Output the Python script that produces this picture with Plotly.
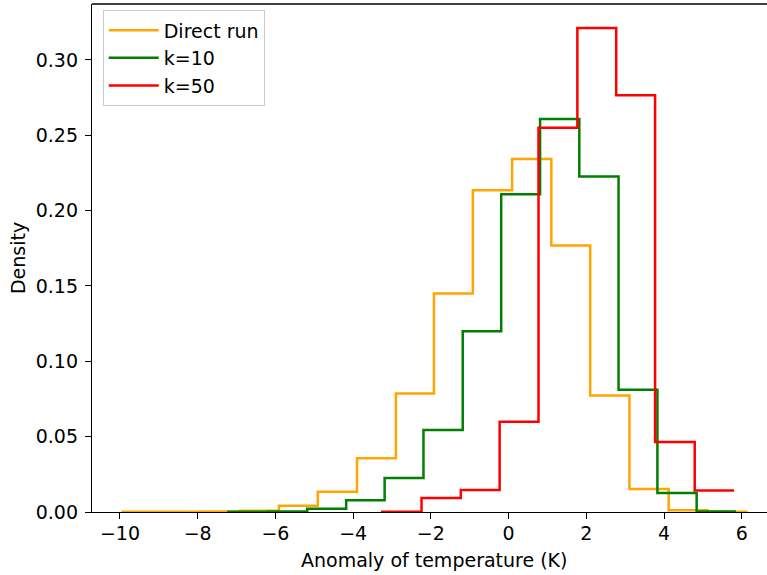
import plotly.graph_objects as go

# Histogram bin edges (K) and densities for each run
direct_edges = [-9.93, -8.93, -7.94, -6.92, -5.91, -4.91, -3.90, -2.90, -1.92,
                -0.92, 0.09, 1.10, 2.10, 3.11, 4.12, 5.12, 6.15]
direct_density = [0.0001, 0.0001, 0.0004, 0.0009, 0.0042, 0.0135, 0.0356, 0.0787,
                  0.1450, 0.2135, 0.2343, 0.1768, 0.0773, 0.0153, 0.0012, 0.0002]

k10_edges = [-7.21, -6.19, -5.18, -4.18, -3.19, -2.19, -1.18, -0.19, 0.81,
             1.82, 2.83, 3.83, 4.84, 5.85]
k10_density = [0.0001, 0.0004, 0.0022, 0.0078, 0.0226, 0.0544, 0.1200, 0.2109,
               0.2608, 0.2226, 0.0812, 0.0126, 0.0004]

k50_edges = [-3.25, -2.24, -1.23, -0.23, 0.77, 1.77, 2.77, 3.77, 4.79, 5.80]
k50_density = [0.0001, 0.0093, 0.0146, 0.0599, 0.2549, 0.3212, 0.2766, 0.0464, 0.0143]

series = [
    ("Direct run", direct_edges, direct_density, "#FFA500"),
    ("k=10", k10_edges, k10_density, "#008000"),
    ("k=50", k50_edges, k50_density, "#FF0000"),
]

x_ticks = [-10, -8, -6, -4, -2, 0, 2, 4, 6]
y_ticks = [0.00, 0.05, 0.10, 0.15, 0.20, 0.25, 0.30]

FONT = "DejaVu Sans"
FS = 19


def step_outline(edges, dens):
    """Outline of a step histogram: rise from the baseline, then one step per bin."""
    xs = [edges[0]] + list(edges)
    ys = [0.0] + list(dens) + [dens[-1]]
    return xs, ys


fig = go.Figure()
for name, edges, dens, color in series:
    xs, ys = step_outline(edges, dens)
    fig.add_trace(go.Scatter(
        x=xs, y=ys, mode="lines", name=name,
        line=dict(color=color, width=2.5, shape="hv"),
        hoverinfo="skip",
    ))

fig.update_layout(
    width=767, height=575,
    margin=dict(l=92, r=0, t=4, b=63),
    paper_bgcolor="white", plot_bgcolor="white",
    font=dict(family=FONT, size=FS, color="black"),
    showlegend=True,
    legend=dict(
        x=0.0159, y=0.9876, xanchor="left", yanchor="top",
        bgcolor="rgba(255,255,255,0.8)", bordercolor="#cccccc", borderwidth=1,
        font=dict(family=FONT, size=FS, color="black"),
        itemwidth=50,
    ),
    xaxis=dict(
        range=[-10.72, 6.65], showgrid=False, zeroline=False,
        showline=True, linecolor="black", linewidth=1.3,
        ticks="outside", ticklen=6, tickwidth=1.3, tickcolor="black",
        tickvals=x_ticks, ticktext=[f"{v}".replace("-", "\u2212") for v in x_ticks],
        ticklabelstandoff=-2,
    ),
    yaxis=dict(
        range=[0, 0.3371], showgrid=False, zeroline=False,
        showline=True, linecolor="black", linewidth=1.3,
        ticks="outside", ticklen=6, tickwidth=1.3, tickcolor="black",
        tickvals=y_ticks, ticktext=[f"{v:.2f}" for v in y_ticks],
        ticklabelstandoff=3,
        title=dict(text="Density", standoff=5, font=dict(family=FONT, size=FS)),
    ),
    shapes=[dict(type="line", xref="paper", yref="paper", x0=0, x1=1, y0=1, y1=1,
                 line=dict(color="black", width=1.3))],
    annotations=[dict(
        text="Anomaly of temperature (K)", xref="paper", yref="paper",
        x=0.5067, y=-0.094, xanchor="center", yanchor="middle", showarrow=False,
        font=dict(family=FONT, size=FS, color="black"),
    )],
)

fig.write_html("out.html")
